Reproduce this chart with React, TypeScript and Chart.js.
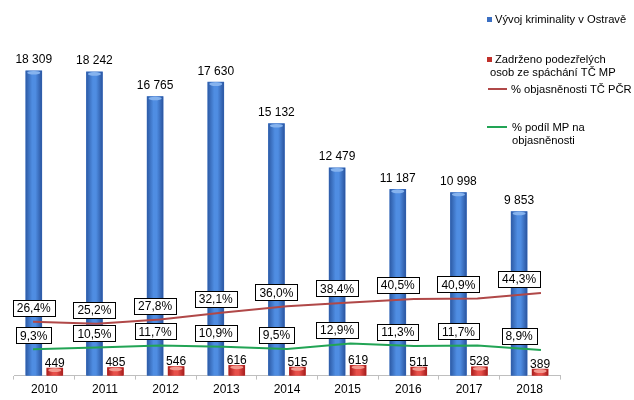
import React, { useEffect, useRef } from 'react';
import { Chart, registerables } from 'chart.js';

Chart.register(...registerables);

// ---- data ----
const years = ['2010', '2011', '2012', '2013', '2014', '2015', '2016', '2017', '2018'];
const crimeCounts = [18309, 18242, 16765, 17630, 15132, 12479, 11187, 10998, 9853];
const detainedCounts = [449, 485, 546, 616, 515, 619, 511, 528, 389];
const clearancePCR = [26.4, 25.2, 27.8, 32.1, 36.0, 38.4, 40.5, 40.9, 44.3];
const sharePM = [9.3, 10.5, 11.7, 10.9, 9.5, 12.9, 11.3, 11.7, 8.9];

const seriesNames = [
  'Vývoj kriminality v Ostravě',
  'Zadrženo podezřelých\nosob ze spáchání TČ MP',
  '% objasněnosti TČ PČR',
  '% podíl MP na\nobjasněnosti',
];

const FONT = '"Liberation Sans", Arial, sans-serif';

const shades: Record<number, { edge: string; light: string; dark: string; cap: string }> = {
  0: { edge: '#2D5BA6', light: '#4F8DE2', dark: '#2A55A0', cap: '#86B3EE' },
  1: { edge: '#A81F1E', light: '#E8504A', dark: '#A51C1C', cap: '#F39A90' },
};

const fmtThousands = (v: number) => String(v).replace(/\B(?=(\d{3})+(?!\d))/g, ' ');
const fmtPct = (v: number) => v.toFixed(1).replace('.', ',') + '%';
const toPoints = (arr: number[]) => arr.map((v, i) => ({ x: i, y: v }));

const barShade = {
  id: 'barShade',
  afterDatasetDraw(chart: any, args: any) {
    const ds = chart.data.datasets[args.index];
    if (ds.type !== 'bar') return;
    const pal = shades[args.index];
    const ctx = chart.ctx;
    args.meta.data.forEach((el: any) => {
      const { x, y, base, width } = el.getProps(['x', 'y', 'base', 'width'], true);
      const l = x - width / 2;
      const g = ctx.createLinearGradient(l, 0, l + width, 0);
      g.addColorStop(0, pal.edge);
      g.addColorStop(0.4, pal.light);
      g.addColorStop(0.6, pal.light);
      g.addColorStop(1, pal.dark);
      ctx.save();
      ctx.fillStyle = g;
      ctx.fillRect(l, y, width, base - y);
      ctx.fillStyle = pal.cap;
      ctx.beginPath();
      ctx.ellipse(x, y + 2, width / 2 - 1.5, 1.8, 0, 0, Math.PI * 2);
      ctx.fill();
      ctx.restore();
    });
  },
};

const valueLabels = {
  id: 'valueLabels',
  afterDatasetsDraw(chart: any) {
    const ctx = chart.ctx;
    const barMeta = chart.getDatasetMeta(0);
    ctx.save();
    ctx.font = `12px ${FONT}`;
    ctx.fillStyle = '#000';
    ctx.textAlign = 'center';
    chart.data.datasets.forEach((ds: any, di: number) => {
      const meta = chart.getDatasetMeta(di);
      meta.data.forEach((el: any, i: number) => {
        const v = ds.data[i].y;
        if (ds.type === 'bar') {
          ctx.textBaseline = 'alphabetic';
          ctx.fillStyle = '#000';
          ctx.fillText(fmtThousands(v), el.x, el.y - (di === 0 ? 7.5 : 1.5));
        } else {
          const txt = fmtPct(v);
          const cx = barMeta.data[i].x;
          const cy = el.y - 14;
          const w = Math.round(ctx.measureText(txt).width + 8);
          const h = 16;
          const bx = Math.round(cx - w / 2) + 0.5;
          const by = Math.round(cy - h / 2) + 0.5;
          ctx.fillStyle = '#fff';
          ctx.fillRect(bx, by, w, h);
          ctx.strokeStyle = '#000';
          ctx.lineWidth = 1;
          ctx.strokeRect(bx, by, w, h);
          ctx.fillStyle = '#000';
          ctx.textBaseline = 'middle';
          ctx.fillText(txt, cx, cy + 1);
        }
      });
    });
    ctx.restore();
  },
};

const legendBlock = {
  id: 'legendBlock',
  afterDraw(chart: any) {
    const ctx = chart.ctx;
    const ds = chart.data.datasets;
    ctx.save();
    ctx.font = `11.2px ${FONT}`;
    ctx.fillStyle = '#000';
    ctx.textBaseline = 'middle';
    ctx.textAlign = 'left';
    ctx.fillStyle = ds[0].legendColor;
    ctx.fillRect(487, 17, 5, 5);
    ctx.fillStyle = '#000';
    ctx.fillText(ds[0].label, 495, 20);
    const l2 = ds[1].label.split('\n');
    ctx.fillStyle = ds[1].legendColor;
    ctx.fillRect(487, 57, 5, 5);
    ctx.fillStyle = '#000';
    ctx.fillText(l2[0], 495, 59.5);
    ctx.fillText(l2[1], 490, 72.5);
    ctx.strokeStyle = ds[2].borderColor;
    ctx.lineWidth = 2;
    ctx.beginPath();
    ctx.moveTo(488, 89);
    ctx.lineTo(507, 89);
    ctx.stroke();
    ctx.fillText(ds[2].label, 511, 90);
    const l4 = ds[3].label.split('\n');
    ctx.strokeStyle = ds[3].borderColor;
    ctx.beginPath();
    ctx.moveTo(487, 127);
    ctx.lineTo(507, 127);
    ctx.stroke();
    ctx.fillText(l4[0], 512, 127.5);
    ctx.fillText(l4[1], 512, 141);
    ctx.restore();
  },
};

export default function App() {
  const ref = useRef<HTMLCanvasElement>(null);
  useEffect(() => {
    if (!ref.current) return;
    Chart.defaults.font.family = FONT;
    const hiddenX = (min: number, max: number) => ({
      type: 'linear',
      display: false,
      offset: false,
      min,
      max,
      grid: { offset: false },
    });
    const chart = new Chart(ref.current, {
      type: 'bar',
      data: {
        labels: years,
        datasets: [
          {
            type: 'bar',
            label: seriesNames[0],
            data: toPoints(crimeCounts),
            backgroundColor: '#3B70C4',
            legendColor: '#3B6FC2',
            xAxisID: 'xb',
            yAxisID: 'y',
            order: 2,
            grouped: false,
            barThickness: 16,
          } as any,
          {
            type: 'bar',
            label: seriesNames[1],
            data: toPoints(detainedCounts),
            backgroundColor: '#C8312C',
            legendColor: '#C0302A',
            xAxisID: 'xr',
            yAxisID: 'y',
            order: 2,
            grouped: false,
            barThickness: 16,
          } as any,
          {
            type: 'line',
            label: seriesNames[2],
            data: toPoints(clearancePCR),
            borderColor: '#B04848',
            borderWidth: 2,
            pointRadius: 0,
            tension: 0,
            xAxisID: 'x2',
            yAxisID: 'y2',
            order: 1,
          } as any,
          {
            type: 'line',
            label: seriesNames[3],
            data: toPoints(sharePM),
            borderColor: '#22A455',
            borderWidth: 2,
            pointRadius: 0,
            tension: 0,
            xAxisID: 'x2',
            yAxisID: 'y2',
            order: 1,
          } as any,
        ],
      },
      options: {
        animation: false,
        responsive: true,
        maintainAspectRatio: false,
        layout: { padding: { left: 14, right: 74, top: 26, bottom: 0 } },
        plugins: { legend: { display: false }, tooltip: { enabled: false } },
        scales: {
          x: {
            type: 'category',
            position: 'bottom',
            offset: true,
            grid: { drawOnChartArea: false, color: '#BFBFBF', tickLength: 4, offset: true },
            border: { color: '#BFBFBF' },
            ticks: { color: '#000', font: { size: 12, family: FONT }, padding: 3, maxRotation: 0 },
          },
          xb: hiddenX(-0.326, 8.674),
          xr: hiddenX(-0.672, 8.328),
          x2: hiddenX(-0.3, 8.3),
          y: { display: false, min: 0, max: 21000 },
          y2: { display: false, min: -7, max: 210 },
        },
      } as any,
      plugins: [barShade, valueLabels, legendBlock],
    });
    return () => chart.destroy();
  }, []);
  return (
    <div style={{ position: 'fixed', left: 0, top: 0, width: 634, height: 400, background: '#fff' }}>
      <canvas ref={ref} />
    </div>
  );
}
